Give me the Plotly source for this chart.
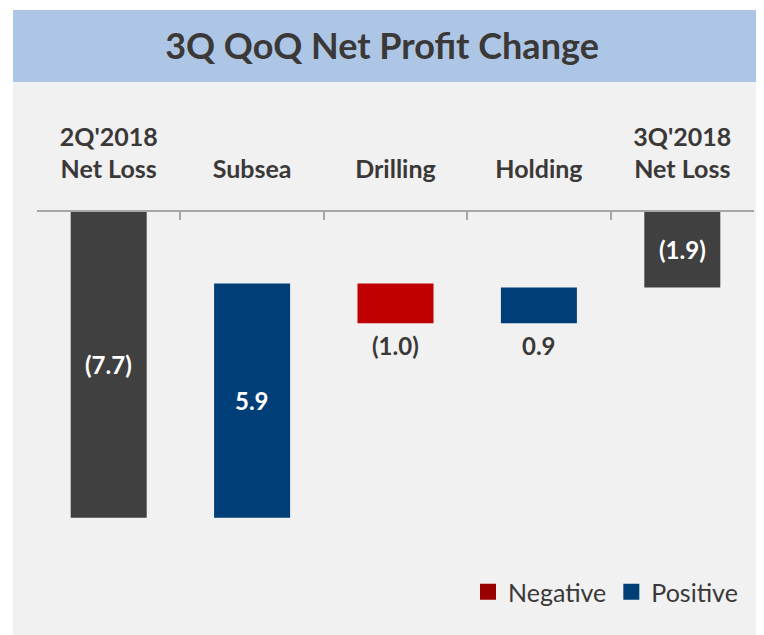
import plotly.graph_objects as go

# ---- data ----
categories = ["2Q'2018<br>Net Loss", "Subsea", "Drilling", "Holding", "3Q'2018<br>Net Loss"]
values = [-7.7, 5.9, -1.0, 0.9, -1.9]
measures = ["total", "relative", "relative", "relative", "total"]
label_inside = [True, True, False, False, True]
legend_names = ["Negative", "Positive"]

# ---- styles ----
GRAY = "#404040"
BLUE = "#003E78"
RED = "#C00000"
LEG_RED = "#990000"
TXT = "#3B3838"
FONT = "Lato"

OFF = 8  # page body margin offset
W, H = 764 - OFF, 635 - OFF
ML, MR, MT, MB = 37 - OFF, 10, 212 - OFF, 95
ymin = -8.26

# waterfall bases
bases, colors = [], []
running = 0.0
for v, m in zip(values, measures):
    if m == "total":
        bases.append(0.0)
        colors.append(GRAY)
        running = v
    else:
        bases.append(running)
        colors.append(BLUE if v > 0 else RED)
        running += v

def fmt(v):
    return f"({abs(v):.1f})" if v < 0 else f"{v:.1f}"

fig = go.Figure()
fig.add_trace(go.Bar(
    x=categories, y=values, base=bases,
    marker=dict(color=colors, line=dict(width=0)),
    width=0.53, showlegend=False, hoverinfo="skip",
))

# legend entries
for name, col in zip(legend_names, [LEG_RED, BLUE]):
    fig.add_trace(go.Scatter(
        x=[None], y=[None], mode="markers", name=name,
        marker=dict(symbol="square", size=16, color=col),
    ))

annotations = []
for c, v, b, inside in zip(categories, values, bases, label_inside):
    if inside:
        annotations.append(dict(
            x=c, y=b + v / 2, text=fmt(v), showarrow=False,
            font=dict(family=FONT, size=24, color="white", weight="bold"),
            xanchor="center", yanchor="middle",
        ))
    else:
        annotations.append(dict(
            x=c, y=min(b, b + v), text=fmt(v), showarrow=False,
            font=dict(family=FONT, size=24, color=TXT, weight="bold"),
            xanchor="center", yanchor="top", yshift=-6,
        ))

pw = W - ML - MR
ph = H - MT - MB
def px2x(p):  # reference window pixel -> paper x
    return (p - OFF - ML) / pw
def py2y(p):  # reference window pixel -> paper y
    return (H - MB - (p - OFF)) / ph

shapes = [
    dict(type="rect", xref="paper", yref="paper", layer="below",
         x0=px2x(13), x1=px2x(770), y0=py2y(82), y1=py2y(640),
         fillcolor="#F1F1F1", line=dict(width=0)),
    dict(type="rect", xref="paper", yref="paper", layer="below",
         x0=px2x(13), x1=px2x(770), y0=py2y(10), y1=py2y(82),
         fillcolor="#ADC6E5", line=dict(width=0)),
]

fig.update_layout(
    width=W, height=H,
    margin=dict(l=ML, r=MR, t=MT, b=MB),
    paper_bgcolor="white", plot_bgcolor="rgba(0,0,0,0)",
    font=dict(family=FONT, color=TXT),
    title=dict(text="3Q QoQ Net Profit Change", xref="container", x=(382 - OFF) / W,
               xanchor="center", yref="container", y=1 - (46 - OFF) / H, yanchor="middle",
               font=dict(family=FONT, size=36, color=TXT, weight="bold")),
    xaxis=dict(side="top", showline=True, linecolor="#A6A6A6", linewidth=1.5,
               ticks="inside", ticklen=8, tickcolor="#A6A6A6", tickwidth=1.5,
               tickson="boundaries", showgrid=False, zeroline=False,
               ticklabelstandoff=22,
               tickfont=dict(family=FONT, size=25, color=TXT, weight="bold")),
    yaxis=dict(visible=False, range=[ymin, 0], fixedrange=True),
    shapes=shapes,
    annotations=annotations,
    legend=dict(orientation="h", xanchor="right", x=px2x(743), yanchor="middle",
                y=py2y(592), bgcolor="rgba(0,0,0,0)",
                font=dict(family=FONT, size=25, color=TXT), itemclick=False),
    showlegend=True,
)

fig.write_html("out.html")
